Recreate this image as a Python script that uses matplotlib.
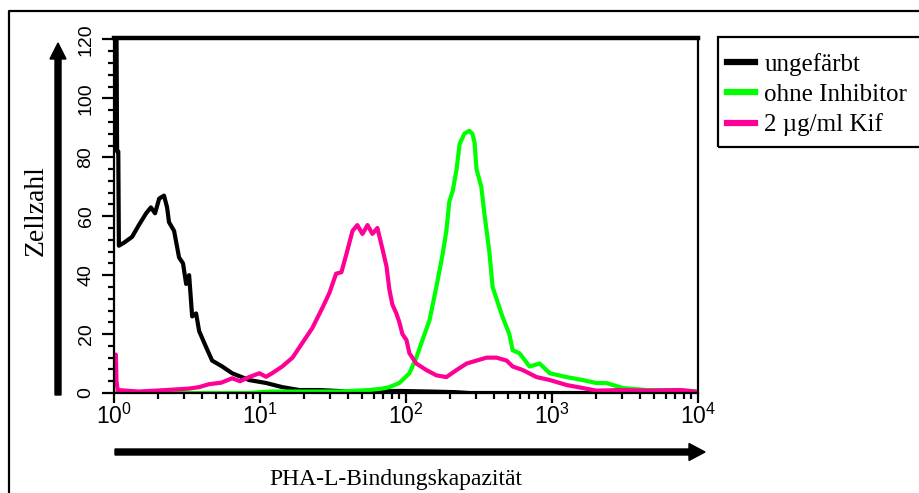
import matplotlib
matplotlib.use("Agg")
import matplotlib.pyplot as plt
from matplotlib.lines import Line2D
from matplotlib.patches import FancyArrow, Rectangle
from matplotlib.transforms import IdentityTransform
from matplotlib.ticker import MultipleLocator, LogLocator, NullFormatter

# fluorescence channel (log scale) and cell counts
ungefaerbt_x = [1.00, 1.04, 1.05, 1.07, 1.08, 1.17, 1.33, 1.48, 1.66, 1.79, 1.91, 2.04, 2.20,
                2.31, 2.38, 2.58, 2.79, 2.97, 3.12, 3.27, 3.43, 3.65, 3.83, 4.28, 4.70, 5.51,
                6.45, 8.42, 11.0, 14.2, 18.6, 25.5, 41.0, 90.0, 145, 215, 273, 10000]
ungefaerbt_y = [125, 125, 82, 82, 50, 51, 53, 57, 61, 63, 61, 66, 67,
                63, 58, 55, 46, 44, 37, 40, 26, 27, 21, 15.5, 11, 9,
                6.7, 4.4, 3.4, 2.0, 1.0, 1.0, 0.5, 0.7, 0.5, 0.3, 0, 0]

ohne_x = [1.00, 8.42, 11.6, 18.6, 34.9, 56.0, 68.9, 77.0, 90.1, 105.5, 117.7, 129.7, 144.9,
          161.4, 178, 189, 198, 209, 222, 233, 251, 271, 285, 295, 304, 328, 344, 372, 392,
          423, 457, 510, 538, 599, 702, 823, 966, 1260, 1620, 2010, 2350, 3060, 4440, 7520, 9800]
ohne_y = [0, 0, 0.5, 0.5, 0.5, 1.0, 1.5, 2.0, 3.4, 6.7, 12, 18, 24.7,
          36, 47, 55, 65, 68.6, 76, 84.5, 88, 89, 88, 85, 76, 70, 61, 48, 36,
          31, 26, 20, 14.5, 13.5, 9, 10, 6.7, 5.4, 4.4, 3.4, 3.4, 1.7, 1.0, 1.0, 0.5]

kif_x = [1.00, 1.03, 1.04, 1.06, 1.48, 2.27, 3.27, 3.83, 4.48, 5.42, 6.45, 7.30, 8.42, 9.9,
         11.0, 12.1, 14.2, 16.7, 19.5, 22.8, 26.8, 29.9, 33.2, 36.1, 39.0, 43.0, 46.4, 50.3,
         54.5, 58.9, 63.7, 68.9, 73.5, 77.0, 80.7, 85.9, 90.1, 94.5, 100.7, 105.5, 117.7,
         137.8, 161.4, 189, 222, 260, 304, 356, 417, 489, 538, 630, 784, 966, 1260, 1620,
         2010, 2920, 4690, 7520, 9500, 10000]
kif_y = [13, 13, 4, 1, 0.5, 1, 1.5, 2, 3, 3.5, 5, 4, 5.4, 6.7,
         5.5, 6.7, 9, 12, 17, 22, 29, 34, 40.5, 41, 47, 55, 57, 54,
         57, 54, 56, 49, 43, 35, 30, 27, 24, 20, 18, 13.5, 10,
         7.8, 6, 5.4, 7.8, 10, 11, 12, 12, 11, 9, 7.8, 5.4, 4.4, 2.7, 1.7,
         0.8, 1.0, 0.8, 1.0, 0.5, 0]

labels = ["ungefärbt", "ohne Inhibitor", "2 µg/ml Kif"]
colors = ["#000000", "#00ff00", "#ff0096"]

plt.rcParams["mathtext.fontset"] = "custom"
plt.rcParams["mathtext.rm"] = "Liberation Sans"
plt.rcParams["mathtext.it"] = "Liberation Sans"
plt.rcParams["mathtext.default"] = "regular"
plt.rcParams["xtick.labelsize"] = 16.5
plt.rcParams["ytick.labelsize"] = 14
plt.rcParams["font.family"] = "Liberation Sans"

W, H = 920, 493
fig = plt.figure(figsize=(W / 100, H / 100), dpi=100)
ax = fig.add_axes([114 / W, 1 - 393 / H, 584 / W, 355 / H])

ax.plot(ungefaerbt_x, ungefaerbt_y, color=colors[0], lw=3, label=labels[0])
ax.plot(ohne_x, ohne_y, color=colors[1], lw=3, label=labels[1])
ax.plot(kif_x, kif_y, color=colors[2], lw=3, label=labels[2])

ax.set_xscale("log")
ax.set_xlim(1, 10000)
ax.set_ylim(0, 120.5)

ax.xaxis.set_major_locator(LogLocator(base=10, numticks=10))
ax.xaxis.set_minor_locator(LogLocator(base=10, subs=range(2, 10), numticks=50))
ax.xaxis.set_minor_formatter(NullFormatter())
ax.yaxis.set_major_locator(MultipleLocator(20))
ax.yaxis.set_minor_locator(MultipleLocator(4))

for s in ["left", "bottom", "right"]:
    ax.spines[s].set_linewidth(1.6)
ax.spines["top"].set_linewidth(3.2)

ax.tick_params(axis="x", which="major", direction="out", length=7, width=1.6, pad=1)
ax.tick_params(axis="x", which="minor", direction="out", length=4, width=1.6)
ax.tick_params(axis="y", which="major", direction="out", length=9, width=1.6, pad=5)
ax.tick_params(axis="y", which="minor", direction="out", length=4.5, width=1.6)
ax.set_yticks([0, 20, 40, 60, 80, 100, 120])
ax.set_yticklabels(["0", "20", "40", "60", "80", "100", "120"], rotation=90,
                   va="center", fontsize=14)

# legend: entries without frame, box drawn separately (runs off the right edge)
leg = fig.legend(loc="upper left", bbox_to_anchor=(727 / W, 1 - 53 / H),
                 prop={"family": "Liberation Serif", "size": 18},
                 handlelength=1.1, handletextpad=0.4, borderpad=0,
                 labelspacing=0.3, borderaxespad=0, frameon=False)
for h in leg.legend_handles:
    h.set_linewidth(4.5)
fig.add_artist(Rectangle((718, H - 147), 230, 110, fill=False, edgecolor="black",
                         lw=1.6, transform=IdentityTransform()))

# axis titles
fig.text(36 / W, 1 - 211 / H, "Zellzahl", rotation=90, ha="center", va="center",
         family="Liberation Serif", size=20)
fig.text(396 / W, 1 - 485 / H, "PHA-L-Bindungskapazität", ha="center", va="baseline",
         family="Liberation Serif", size=17)

# arrows beside the axes (pixel coordinates)
fig.add_artist(FancyArrow(58, H - 395, 0, 352, width=6, head_width=16, head_length=16,
                          length_includes_head=True, color="black",
                          transform=IdentityTransform()))
fig.add_artist(FancyArrow(115, H - 452, 590, 0, width=6, head_width=17, head_length=16,
                          length_includes_head=True, color="black",
                          transform=IdentityTransform()))

# outer frame, open to the right and bottom
fig.add_artist(Line2D([9, 9, W + 10], [-10, H - 11, H - 11], color="black", lw=1.6,
                      transform=IdentityTransform()))

fig.savefig("out.png", dpi=100)
